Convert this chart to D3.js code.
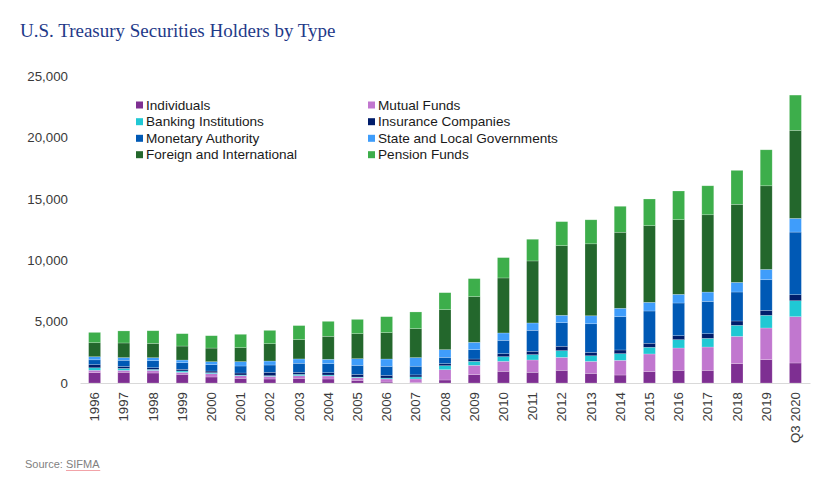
<!DOCTYPE html>
<html>
<head>
<meta charset="utf-8">
<script src="https://cdn.jsdelivr.net/npm/d3@7"></script>
<style>
  html, body { margin: 0; padding: 0; background: #ffffff; }
  svg { display: block; }
</style>
</head>
<body>
<svg id="chart" width="833" height="480"></svg>
<script>
const years = ["1996","1997","1998","1999","2000","2001","2002","2003","2004","2005","2006","2007","2008","2009","2010","2011","2012","2013","2014","2015","2016","2017","2018","2019","Q3 2020"];

const seriesNames = ["Individuals","Mutual Funds","Banking Institutions","Insurance Companies","Monetary Authority","State and Local Governments","Foreign and International","Pension Funds"];

const individuals   = [840, 870, 815, 705, 490, 380, 325, 380, 325, 215, 80, 30, 245, 680, 950, 870, 1030, 785, 650, 925, 1030, 1030, 1575, 1900, 1630];
const mutualFunds   = [200, 160, 215, 165, 270, 215, 215, 215, 245, 215, 245, 300, 840, 760, 815, 1005, 1060, 975, 1195, 1440, 1820, 1900, 2225, 2580, 3770];
const banking       = [200, 160, 80, 110, 80, 55, 55, 110, 80, 55, 80, 165, 325, 325, 380, 435, 545, 460, 545, 545, 680, 705, 895, 1030, 1300];
const insurance     = [250, 160, 135, 135, 135, 165, 270, 165, 190, 215, 215, 165, 165, 190, 245, 270, 355, 270, 300, 325, 325, 380, 355, 405, 490];
const monetary      = [400, 500, 570, 540, 515, 570, 600, 735, 735, 735, 735, 705, 515, 760, 1085, 1710, 1925, 2335, 2715, 2630, 2660, 2630, 2360, 2495, 5100];
const stateLocal    = [250, 220, 245, 215, 245, 355, 325, 355, 355, 545, 600, 705, 625, 600, 600, 600, 600, 650, 680, 705, 705, 760, 785, 840, 1115];
const foreign       = [1140, 1190, 1165, 1140, 1110, 1140, 1410, 1575, 1870, 2035, 2145, 2360, 3255, 3720, 4480, 5050, 5670, 5860, 6190, 6240, 6080, 6295, 6350, 6810, 7165];
const pension       = [840, 980, 1030, 1005, 1005, 1085, 1085, 1140, 1220, 1165, 1300, 1355, 1385, 1465, 1655, 1765, 1955, 1955, 2115, 2175, 2335, 2360, 2770, 2930, 2875];

const yTicks = [0, 5000, 10000, 15000, 20000, 25000];

const colors = ["#7e2f92", "#c177cf", "#20c8d4", "#001d6b", "#0059b5", "#3f9dfb", "#23672c", "#3dae4b"];

const seriesData = [individuals, mutualFunds, banking, insurance, monetary, stateLocal, foreign, pension];

const rows = years.map((y, i) => {
  const r = { year: y };
  seriesNames.forEach((s, k) => { r[s] = seriesData[k][i]; });
  return r;
});

const stacked = d3.stack().keys(seriesNames)(rows);

const svg = d3.select("#chart");
const font = "'Liberation Sans', Arial, sans-serif";

const x = d3.scaleBand().domain(years).range([80, 810]).paddingInner(0.59).paddingOuter(0.295);
const y = d3.scaleLinear().domain([0, 25000]).range([383, 76]);
const color = d3.scaleOrdinal().domain(seriesNames).range(colors);

// Title
svg.append("text")
  .attr("x", 20).attr("y", 37)
  .attr("font-family", "'Liberation Serif', 'Times New Roman', serif")
  .attr("font-size", 19)
  .attr("fill", "#1f3a89")
  .text("U.S. Treasury Securities Holders by Type");

// Y axis
const yAxis = svg.append("g")
  .attr("transform", "translate(72,0)")
  .call(d3.axisLeft(y).tickValues(yTicks).tickSize(0).tickPadding(4).tickFormat(d3.format(",")));
yAxis.select(".domain").remove();
yAxis.selectAll("text")
  .attr("font-family", font).attr("font-size", 13.3).attr("fill", "#3a3a3a");

// Bars
svg.append("g").selectAll("g")
  .data(stacked)
  .join("g")
  .attr("fill", d => color(d.key))
  .selectAll("rect")
  .data(d => d)
  .join("rect")
  .attr("x", d => x(d.data.year))
  .attr("width", x.bandwidth())
  .attr("y", d => y(d[1]))
  .attr("height", d => Math.max(0, y(d[0]) - y(d[1])))
  .attr("stroke", "rgba(255,255,255,0.35)")
  .attr("stroke-width", 0.6);

// X axis
const xAxis = svg.append("g")
  .attr("transform", "translate(0,383)")
  .call(d3.axisBottom(x).tickSize(0).tickSizeOuter(0));
xAxis.select(".domain").attr("stroke", "#d9d9d9").attr("stroke-width", 1);
xAxis.selectAll("text")
  .attr("font-family", font).attr("font-size", 13.3).attr("fill", "#3a3a3a")
  .attr("transform", "rotate(-90)")
  .attr("text-anchor", "end")
  .attr("x", -9).attr("y", 0).attr("dy", "0.35em");

// Legend
const legendPos = [[136, 105], [368, 105], [136, 121.7], [368, 121.7], [136, 138.3], [368, 138.3], [136, 154.7], [368, 154.7]];
const legend = svg.append("g");
seriesNames.forEach((s, i) => {
  const [lx, ly] = legendPos[i];
  legend.append("rect")
    .attr("x", lx).attr("y", ly - 3.5).attr("width", 7).attr("height", 7)
    .attr("fill", color(s));
  legend.append("text")
    .attr("x", lx + 10).attr("y", ly).attr("dy", "0.35em")
    .attr("font-family", font).attr("font-size", 13.6).attr("fill", "#1a1a1a")
    .text(s);
});

// Source
const src = svg.append("text")
  .attr("x", 25).attr("y", 468)
  .attr("font-family", font).attr("font-size", 11).attr("fill", "#7f7f7f");
src.append("tspan").text("Source: ");
src.append("tspan").attr("id", "sifma").text("SIFMA");
const sb = document.getElementById("sifma").getBBox();
svg.append("line")
  .attr("x1", sb.x).attr("x2", sb.x + sb.width)
  .attr("y1", 470.5).attr("y2", 470.5)
  .attr("stroke", "#f2a3a8").attr("stroke-width", 1);
</script>
</body>
</html>
